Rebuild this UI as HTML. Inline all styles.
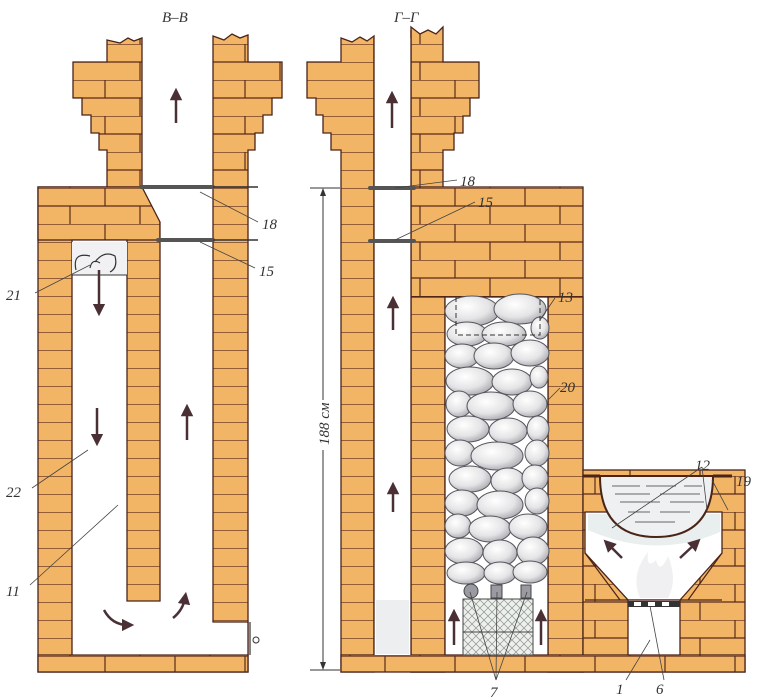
<!DOCTYPE html>
<html><head><meta charset="utf-8"><style>
html,body{margin:0;padding:0;background:#fff;}
svg{display:block;}
text{font-family:"Liberation Serif",serif;font-style:italic;font-size:15px;fill:#333;}
</style></head><body>
<svg width="782" height="700" viewBox="0 0 782 700" xmlns="http://www.w3.org/2000/svg">
<defs>
<pattern id="br" patternUnits="userSpaceOnUse" x="0" y="8" width="70" height="36">
<rect width="70" height="36" fill="#f2b566"/>
<path d="M0 0H70M0 18H70M35 0V18M0 18V36M70 18V36" stroke="#5a2a1a" stroke-width="1.2" fill="none"/>
</pattern>
<pattern id="bh" patternUnits="userSpaceOnUse" x="0" y="8" width="70" height="18">
<rect width="70" height="18" fill="#f2b566"/>
<path d="M0 0H70" stroke="#5a2a1a" stroke-width="1.2"/>
</pattern>
<pattern id="hatch" patternUnits="userSpaceOnUse" width="8" height="8">
<rect width="8" height="8" fill="#eef0ee"/>
<path d="M0 0L8 8M8 0L0 8" stroke="#8a948a" stroke-width="0.7"/>
</pattern>
<radialGradient id="st" cx="0.4" cy="0.35" r="0.7">
<stop offset="0" stop-color="#ffffff"/><stop offset="0.6" stop-color="#e4e4e6"/><stop offset="1" stop-color="#a8a8ae"/>
</radialGradient>
<marker id="ah" viewBox="0 0 10 10" refX="5" refY="5" markerWidth="5" markerHeight="5" orient="auto-start-reverse">
<path d="M0 0L10 5L0 10z" fill="#4a3035"/>
</marker>
</defs>
<g stroke="#4a2418" stroke-width="1.3">
<rect x="38" y="187" width="210" height="485" fill="url(#bh)"/>
<path d="M107 40L120 43L128 38L134 41L142 38V187H107V150H99V133H91V115H82V98H73V62H107Z" fill="url(#br)"/>
<path d="M213 36L224 40L232 34L240 38L248 35V62H282V98H272V115H263V133H255V150H248V187H213Z" fill="url(#br)"/>
<rect x="38" y="187" width="122" height="53" fill="url(#br)"/>
<rect x="38" y="655" width="210" height="17" fill="url(#br)"/>
<path d="M142 187H213V622H248V655H72V240H127V601H160V222Z" fill="#fff"/>
<path d="M341 38L352 42L360 37L367 41L374 36V672H341V150H331V133H323V115H316V98H307V62H341Z" fill="url(#bh)"/>
<path d="M411 27L420 34L428 30L436 34L443 27V62H479V98H470V116H463V133H454V150H443V188H411Z" fill="url(#br)"/>
<rect x="411" y="187" width="172" height="485" fill="url(#br)"/>
<rect x="411" y="297" width="34" height="375" fill="url(#bh)"/>
<rect x="548" y="297" width="35" height="375" fill="url(#bh)"/>
<rect x="583" y="470" width="162" height="202" fill="url(#br)"/>
<rect x="341" y="655" width="404" height="17" fill="url(#br)"/>
<rect x="374" y="38" width="37" height="617" fill="#fff" stroke="none"/>
<path d="M374 38V655M411 30V655" fill="none"/>
<rect x="445" y="297" width="103" height="358" fill="#fff"/>
<path d="M585 512H722V553L680 600H628L585 553Z" fill="#fff"/>
<rect x="628" y="600" width="52" height="55" fill="#fff"/>
</g>
<rect x="376" y="600" width="33" height="54" fill="#eceef0"/>
<path d="M588 514H720V532Q656 560 588 530Z" fill="#e9eeef"/>
<path d="M585 600L628 600M585 553L620 600M722 553L688 600M680 600L722 600" stroke="#4a2418" stroke-width="1.2"/>
<path d="M600 476H713Q713 537 656 537Q600 537 600 476Z" fill="#eef0f2" stroke="#4a2418" stroke-width="2"/>
<path d="M583 476H600M713 476H732" stroke="#4a2418" stroke-width="3"/>
<g stroke="#666" stroke-width="1"><path d="M612 486H640M646 486H676M684 486H702M615 494H650M660 494H700M620 502H660M670 502H704M628 512H650M660 512H690M635 522H675"/></g>
<rect x="628" y="601" width="52" height="6" fill="#333"/>
<g fill="#fff"><rect x="634" y="602" width="7" height="4"/><rect x="648" y="602" width="7" height="4"/><rect x="662" y="602" width="7" height="4"/></g>
<path d="M640 598Q630 575 648 552Q646 570 656 560Q660 575 668 556Q678 580 668 598Z" fill="#f0f0f2"/>
<g fill="url(#st)" stroke="#55555c" stroke-width="1">
<ellipse cx="472" cy="311" rx="27" ry="15"/><ellipse cx="520" cy="309" rx="26" ry="15"/><ellipse cx="540" cy="328" rx="9" ry="11"/>
<ellipse cx="467" cy="334" rx="20" ry="12"/><ellipse cx="504" cy="334" rx="22" ry="12"/>
<ellipse cx="462" cy="356" rx="17" ry="12"/><ellipse cx="494" cy="356" rx="20" ry="13"/><ellipse cx="530" cy="353" rx="19" ry="13"/>
<ellipse cx="470" cy="381" rx="24" ry="14"/><ellipse cx="512" cy="382" rx="20" ry="13"/><ellipse cx="539" cy="377" rx="9" ry="11"/>
<ellipse cx="459" cy="404" rx="13" ry="13"/><ellipse cx="491" cy="406" rx="24" ry="14"/><ellipse cx="530" cy="404" rx="17" ry="13"/>
<ellipse cx="468" cy="429" rx="21" ry="13"/><ellipse cx="508" cy="431" rx="19" ry="13"/><ellipse cx="538" cy="429" rx="11" ry="13"/>
<ellipse cx="460" cy="453" rx="15" ry="13"/><ellipse cx="497" cy="456" rx="26" ry="14"/><ellipse cx="537" cy="453" rx="12" ry="13"/>
<ellipse cx="470" cy="479" rx="21" ry="13"/><ellipse cx="508" cy="481" rx="17" ry="13"/><ellipse cx="535" cy="478" rx="13" ry="13"/>
<ellipse cx="462" cy="503" rx="17" ry="13"/><ellipse cx="500" cy="505" rx="23" ry="14"/><ellipse cx="537" cy="501" rx="12" ry="13"/>
<ellipse cx="458" cy="526" rx="13" ry="12"/><ellipse cx="490" cy="529" rx="21" ry="13"/><ellipse cx="528" cy="527" rx="19" ry="13"/>
<ellipse cx="464" cy="551" rx="19" ry="13"/><ellipse cx="500" cy="553" rx="17" ry="13"/><ellipse cx="533" cy="551" rx="16" ry="14"/>
<ellipse cx="466" cy="573" rx="19" ry="11"/><ellipse cx="500" cy="573" rx="16" ry="11"/><ellipse cx="530" cy="572" rx="17" ry="11"/>
</g>
<g fill="#9a9aa2" stroke="#444" stroke-width="1">
<circle cx="471" cy="591" r="7"/><rect x="491" y="585" width="11" height="13"/><rect x="521" y="585" width="10" height="13"/>
</g>
<rect x="463" y="599" width="70" height="56" fill="url(#hatch)" stroke="#444" stroke-width="1"/>
<path d="M463 632H533" stroke="#444" stroke-width="1"/>
<path d="M456 297V335H540V297" fill="none" stroke="#333" stroke-width="1" stroke-dasharray="5 3"/>
<g stroke="#555" stroke-width="4" stroke-linecap="round"><path d="M141 187H213M158 240H213M370 188H414M370 241H414"/></g>
<g stroke="#333" stroke-width="1.5"><path d="M213 187H258M213 240H258"/></g>
<path d="M250 622V655" stroke="#333" stroke-width="1.2"/><circle cx="256" cy="640" r="3" fill="#fff" stroke="#333"/>
<rect x="72" y="242" width="55" height="33" fill="#f1f1f3"/>
<path d="M72 275H127" stroke="#333"/>
<path d="M76 270Q72 252 90 256M95 262Q104 250 115 256Q118 268 110 272M90 268Q92 258 100 263" fill="none" stroke="#333" stroke-width="1.2"/>
<g stroke="#4a3035" stroke-width="2.5" fill="none" marker-end="url(#ah)">
<path d="M176 123V94"/><path d="M99 270V310"/><path d="M97 408V440"/><path d="M187 440V410"/>
<path d="M104 610Q112 625 128 625"/><path d="M173 618Q183 610 185 598"/>
<path d="M392 128V97"/><path d="M393 330V302"/><path d="M393 512V488"/>
<path d="M454 645V615"/><path d="M541 645V615"/>
<path d="M622 558L608 544"/><path d="M680 558L696 543"/>
</g>
<g stroke="#333" stroke-width="1"><path d="M310 188H340M310 670H340M323 190V400M323 450V668"/></g>
<path d="M323 188L320 196H326Z M323 670L320 662H326Z" fill="#333"/>
<text x="0" y="0" transform="translate(329 445) rotate(-90)">188 см</text>
<g stroke="#444" stroke-width="0.8">
<path d="M200 192L258 222M200 242L255 268M35 293L90 265M32 488L88 450M30 585L118 505"/>
<path d="M395 188L457 180M395 240L475 202M540 320L555 298M548 400L560 388"/>
<path d="M702 467L612 528M702 467L707 510M712 480L728 510M470 592L496 680M497 592L496 680M527 592L496 680M626 680L650 640M664 680L650 606"/>
</g>
<text x="162" y="22">В–В</text><text x="394" y="22">Г–Г</text>
<text x="262" y="229">18</text><text x="259" y="276">15</text>
<text x="6" y="300">21</text><text x="6" y="497">22</text><text x="6" y="596">11</text>
<text x="460" y="186">18</text><text x="478" y="207">15</text>
<text x="558" y="302">13</text><text x="560" y="392">20</text>
<text x="695" y="470">12</text><text x="736" y="486">19</text>
<text x="490" y="697">7</text><text x="616" y="694">1</text><text x="656" y="694">6</text>
</svg>
</body></html>
